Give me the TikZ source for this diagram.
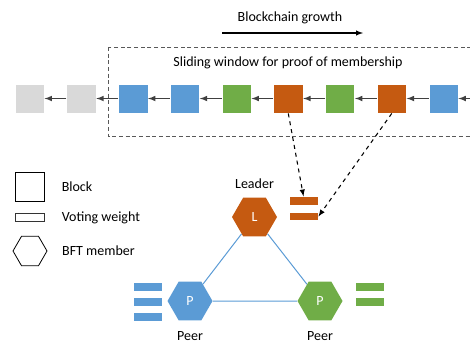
\documentclass[tikz,border=0pt]{standalone}
\usepackage{fontspec}
\setmainfont{Carlito}
\usepackage{tikz}
\usetikzlibrary{shapes,positioning,arrows}
\definecolor{blockblue}{RGB}{91, 155, 213}
\definecolor{blockgreen}{RGB}{112, 173, 71}
\definecolor{blockorange}{RGB}{197, 90, 17}
\definecolor{blockgray}{RGB}{217, 217, 217}
\definecolor{chaingray}{RGB}{64, 64, 64}

\begin{document}
\begin{tikzpicture}[
    x=0.75pt, y=-0.75pt,
    every node/.style={font=\fontsize{10.5}{12}\selectfont},
    block/.style={rectangle, draw=white, line width=0.4pt, minimum size=22pt, inner sep=0pt},
    weight/.style={rectangle, draw=white, line width=0.4pt, minimum width=22pt, minimum height=6.4pt, inner sep=0pt},
    member/.style={regular polygon, regular polygon sides=6, minimum size=33.75pt, inner sep=0pt, text=white},
    chain/.style={-latex, chaingray, line width=0.9pt},
    link/.style={blockblue, line width=0.75pt},
    vote/.style={-latex, dashed, line width=0.8pt},
    node distance=16.4pt
]
\useasboundingbox (0,0) rectangle (470,344);

% sliding window
\draw[dash pattern=on 3pt off 2pt, black!65, line width=0.6pt] (108,47) rectangle (474,136);
\node (windowtitle) at (288,63) {Sliding window for proof of membership};

% growth direction
\node (growth) at (290,18) {Blockchain growth};
\coordinate (growthstart) at (222,33);
\coordinate (growthend) at (363,33);
\draw[-latex, line width=0.8pt] (growthstart) -- (growthend);

% the chain
\node[block, fill=blockblue] (blue3) at (443.5,98.5) {};
\node[block, fill=blockorange, left=of blue3] (orange2) {};
\node[block, fill=blockgreen, left=of orange2] (green2) {};
\node[block, fill=blockorange, left=of green2] (orange1) {};
\node[block, fill=blockgreen, left=of orange1] (green1) {};
\node[block, fill=blockblue, left=of green1] (blue2) {};
\node[block, fill=blockblue, left=of blue2] (blue1) {};
\node[block, fill=blockgray, left=of blue1] (old2) {};
\node[block, fill=blockgray, left=of old2] (old1) {};
\coordinate (newest) at (474,98.5);

\draw[chain] (newest) -- (blue3);
\draw[chain] (blue3) -- (orange2);
\draw[chain] (orange2) -- (green2);
\draw[chain] (green2) -- (orange1);
\draw[chain] (orange1) -- (green1);
\draw[chain] (green1) -- (blue2);
\draw[chain] (blue2) -- (blue1);
\draw[chain] (blue1) -- (old2);
\draw[chain] (old2) -- (old1);

% legend
\node[block, draw=black, line width=0.6pt, fill=white] (legblock) at (30,187) {};
\node[weight, draw=black!80, line width=0.6pt, fill=white] (legweight) at (30,217.5) {};
\node[member, draw=black, line width=0.6pt, minimum size=25.5pt] (legmember) at (30,251) {};
\node[right=9pt of legblock] (legblocktext) {Block};
\node[right=9pt of legweight] (legweighttext) {Voting weight};
\node[right=7.5pt of legmember] (legmembertext) {BFT member};

% BFT members
\node[member, fill=blockorange] (leader) at (254.5,217) {L};
\node[member, fill=blockblue] (peerblue) at (190,301) {P};
\node[member, fill=blockgreen] (peergreen) at (320,301) {P};
\node[above=3pt of leader] (leaderlabel) {Leader};
\node[below=4.5pt of peerblue] (peerbluelabel) {Peer};
\node[below=4.5pt of peergreen] (peergreenlabel) {Peer};

\draw[link] (leader) -- (peerblue);
\draw[link] (leader) -- (peergreen);
\draw[link] (peerblue) -- (peergreen);

% voting weights
\node[weight, fill=blockorange] (leadvote1) at (303.5,201) {};
\node[weight, fill=blockorange, below=4.8pt of leadvote1] (leadvote2) {};
\node[weight, fill=blockblue] (bluevote1) at (148,286.5) {};
\node[weight, fill=blockblue, below=4.45pt of bluevote1] (bluevote2) {};
\node[weight, fill=blockblue, below=4.45pt of bluevote2] (bluevote3) {};
\node[weight, fill=blockgreen] (greenvote1) at (369.5,286.5) {};
\node[weight, fill=blockgreen, below=4.45pt of greenvote1] (greenvote2) {};

\draw[vote] (orange1.south) -- (leadvote1.north);
\draw[vote] (orange2.south) -- (leadvote2.east);

\end{tikzpicture}
\end{document}
